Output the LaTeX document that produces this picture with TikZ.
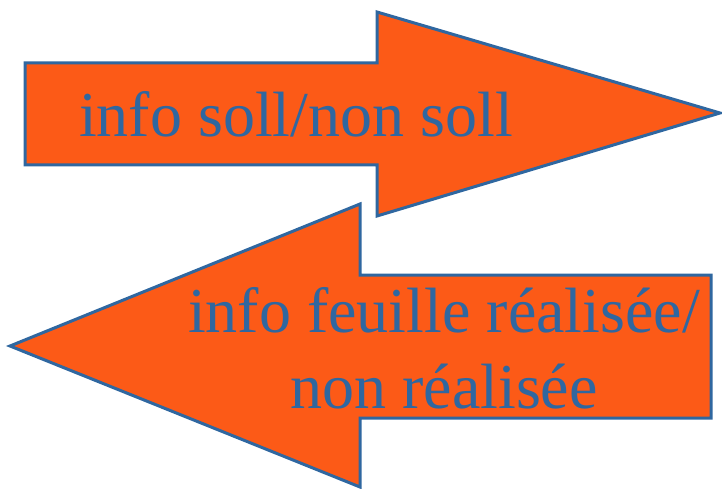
\documentclass[tikz,border=0pt]{standalone}
\usepackage{fontspec}
\setmainfont{Liberation Serif}
\usepackage{tikz}
\definecolor{arrowfill}{HTML}{FC5A17}
\definecolor{arrowline}{HTML}{2F67A0}
\tikzset{
	bigarrow/.style={fill=arrowfill, draw=arrowline, line width=3pt, line join=miter},
	arrowtext/.style={text=arrowline, inner sep=0pt, font=\fontsize{64}{76}\selectfont}
}

\begin{document}
\begin{tikzpicture}[x=1pt, y=-1pt]
		%%%%% START %%%%%
		\useasboundingbox (0, 0) rectangle (722, 489);
		
		% arrow to the right
		\draw[bigarrow] (25, 63) -- (377, 63) -- (377, 12) -- (720, 113) -- (377, 216) -- (377, 165) -- (25, 165) -- cycle;
		\node[arrowtext, anchor=base west] (soll) at (79, 137) {info soll/non soll};
		
		% arrow to the left
		\draw[bigarrow] (711, 275) -- (360, 275) -- (360, 204) -- (10, 346) -- (360, 487) -- (360, 418) -- (711, 418) -- cycle;
		\node[arrowtext, align=center, anchor=base] (feuille) at (444, 408) {info feuille réalisée/\\non réalisée};
		
		%%%%% END %%%%%
	\end{tikzpicture}
\end{document}
